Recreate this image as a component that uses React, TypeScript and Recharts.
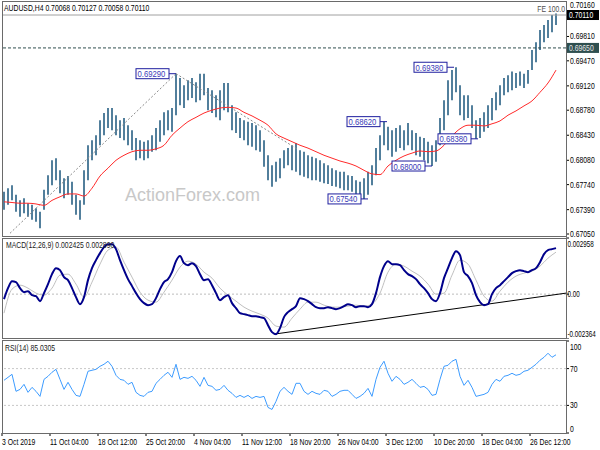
import React from "react";
import { ComposedChart, Bar, Line, XAxis, YAxis, ReferenceLine, ReferenceDot } from "recharts";

const FONT = '"Liberation Sans", Arial, Helvetica, sans-serif';

// ---- price data (each column = one time slot, 4H bars grouped) ----
const candleLow = [
  0.6739, 0.6746, 0.6752, 0.6736, 0.6729, 0.6734, 0.6729, 0.6725, 0.6722, 0.6713,
  0.6739, 0.6760, 0.6773, 0.6780, 0.6762, 0.6755, 0.6760, 0.6746, 0.6732, 0.6725,
  0.6746, 0.6780, 0.6808, 0.6815, 0.6829, 0.6843, 0.6853, 0.6850, 0.6843, 0.6839,
  0.6836, 0.6829, 0.6822, 0.6808, 0.6811, 0.6808, 0.6811, 0.6820, 0.6822, 0.6834,
  0.6843, 0.6850, 0.6848, 0.6871, 0.6885, 0.6881, 0.6892, 0.6895, 0.6889, 0.6892,
  0.6899, 0.6878, 0.6874, 0.6868, 0.6864, 0.6878, 0.6875, 0.6850, 0.6846, 0.6839,
  0.6836, 0.6829, 0.6827, 0.6822, 0.6820, 0.6799, 0.6780, 0.6771, 0.6778, 0.6783,
  0.6797, 0.6801, 0.6794, 0.6792, 0.6787, 0.6785, 0.6783, 0.6780, 0.6780, 0.6778,
  0.6776, 0.6775, 0.6772, 0.6771, 0.6769, 0.6766, 0.6766, 0.6764, 0.6758, 0.6754,
  0.6754, 0.6760, 0.6773, 0.6787, 0.6808, 0.6829, 0.6822, 0.6813, 0.6820, 0.6825,
  0.6822, 0.6829, 0.6822, 0.6815, 0.6813, 0.6808, 0.6804, 0.6800, 0.6806, 0.6829,
  0.6850, 0.6871, 0.6892, 0.6903, 0.6871, 0.6864, 0.6867, 0.6853, 0.6838, 0.6839,
  0.6848, 0.6853, 0.6864, 0.6878, 0.6885, 0.6899, 0.6903, 0.6906, 0.6909, 0.6912,
  0.6909, 0.6915, 0.6934, 0.6945, 0.6962, 0.6973, 0.6979, 0.6987, 0.6997,
];
const candleHigh = [
  0.6764, 0.6769, 0.6773, 0.6760, 0.6752, 0.6755, 0.6748, 0.6746, 0.6741, 0.6736,
  0.6767, 0.6787, 0.6808, 0.6811, 0.6794, 0.6783, 0.6786, 0.6778, 0.6760, 0.6752,
  0.6794, 0.6829, 0.6836, 0.6843, 0.6864, 0.6874, 0.6881, 0.6881, 0.6871, 0.6864,
  0.6867, 0.6857, 0.6850, 0.6839, 0.6836, 0.6834, 0.6836, 0.6843, 0.6853, 0.6864,
  0.6875, 0.6878, 0.6881, 0.6929, 0.6923, 0.6913, 0.6920, 0.6923, 0.6917, 0.6929,
  0.6929, 0.6909, 0.6906, 0.6899, 0.6906, 0.6916, 0.6916, 0.6885, 0.6875, 0.6867,
  0.6864, 0.6862, 0.6860, 0.6857, 0.6850, 0.6836, 0.6815, 0.6801, 0.6806, 0.6811,
  0.6822, 0.6825, 0.6829, 0.6832, 0.6822, 0.6820, 0.6815, 0.6813, 0.6811, 0.6808,
  0.6804, 0.6801, 0.6797, 0.6794, 0.6792, 0.6792, 0.6787, 0.6786, 0.6780, 0.6778,
  0.6783, 0.6792, 0.6801, 0.6825, 0.6843, 0.6862, 0.6855, 0.6850, 0.6853, 0.6857,
  0.6850, 0.6860, 0.6850, 0.6846, 0.6841, 0.6839, 0.6834, 0.6829, 0.6836, 0.6867,
  0.6892, 0.6920, 0.6934, 0.6938, 0.6913, 0.6899, 0.6899, 0.6885, 0.6864, 0.6867,
  0.6875, 0.6885, 0.6895, 0.6903, 0.6913, 0.6923, 0.6927, 0.6932, 0.6930, 0.6932,
  0.6929, 0.6934, 0.6962, 0.6973, 0.6990, 0.6997, 0.7004, 0.7011, 0.7013,
];
// moving average, every second column
const maValues = [
  0.6750, 0.6749, 0.6748, 0.6748, 0.6747, 0.6745, 0.6752, 0.6757, 0.6761, 0.6761,
  0.6758, 0.6769, 0.6786, 0.6797, 0.6808, 0.6815, 0.6820, 0.6822, 0.6822, 0.6824,
  0.6829, 0.6843, 0.6853, 0.6862, 0.6868, 0.6874, 0.6878, 0.6881, 0.6882, 0.6881,
  0.6875, 0.6870, 0.6864, 0.6857, 0.6845, 0.6839, 0.6834, 0.6829, 0.6825, 0.6820,
  0.6815, 0.6811, 0.6807, 0.6804, 0.6800, 0.6794, 0.6789, 0.6788, 0.6800, 0.6808,
  0.6814, 0.6818, 0.6821, 0.6820, 0.6821, 0.6829, 0.6842, 0.6852, 0.6857, 0.6857,
  0.6856, 0.6859, 0.6863, 0.6871, 0.6877, 0.6884, 0.6891, 0.6903, 0.6916, 0.6934,
];
// MACD main line, every column
const macdValues = [
  -0.000264, 0.000316, 0.000685, 0.000632, 0.000316, 0.000105, 0.000158, -0.000053, -0.000105, -0.000369,
  0.000053, 0.000527, 0.001054, 0.00137, 0.001265, 0.000896, 0.000738, 0.000316, -0.000158, -0.000527,
  -0.000158, 0.000738, 0.00137, 0.001792, 0.002161, 0.002477, 0.002635, 0.002635, 0.002372, 0.001792,
  0.001265, 0.000791, 0.000422, 0.000053, -0.000264, -0.000474, -0.00058, -0.000527, -0.000211, 0.000264,
  0.000632, 0.000791, 0.001159, 0.001739, 0.002003, 0.001634, 0.001528, 0.001634, 0.001476, 0.001054,
  0.000738, 0.000791, 0.000474, 0.000053, -0.000316, -0.000158, -0.000053, -0.000474, -0.000738, -0.001001,
  -0.001054, -0.001107, -0.001159, -0.001159, -0.001212, -0.001265, -0.001634, -0.002003, -0.002108, -0.001792,
  -0.001212, -0.000949, -0.000791, -0.000632, -0.000211, -0.000264, -0.000369, -0.000527, -0.000685, -0.000738,
  -0.000738, -0.000685, -0.000738, -0.000791, -0.000738, -0.000632, -0.000527, -0.00058, -0.000685, -0.000632,
  -0.000632, -0.000685, -0.000527, 0.000053, 0.000896, 0.001476, 0.001739, 0.001581, 0.001581, 0.001528,
  0.001265, 0.001054, 0.000949, 0.000791, 0.000527, 0.000316, 0.000053, -0.000264, -0.000369, 0.000053,
  0.000843, 0.00137, 0.001897, 0.002266, 0.002055, 0.001159, 0.000949, 0.00058, -0.000053, -0.000422,
  -0.00058, -0.000527, 0.0, 0.000316, 0.000474, 0.000685, 0.000896, 0.001107, 0.001212, 0.001265,
  0.001212, 0.001159, 0.001265, 0.00137, 0.001686, 0.002108, 0.002319, 0.002372, 0.002425,
];
// MACD signal line, every second column
const signalValues = [
  -0.001001, 0.000264, 0.000474, 0.000316, 0.000053, -0.000053, 0.000316, 0.001001, 0.001054, 0.000527,
  -0.000158, 0.000632, 0.001581, 0.002319, 0.002477, 0.001686, 0.000896, 0.000105, -0.000316, -0.000422,
  0.000105, 0.000738, 0.001423, 0.001739, 0.001581, 0.001159, 0.000843, 0.000316, -0.000053, -0.000369,
  -0.000685, -0.000896, -0.001054, -0.001265, -0.001686, -0.001739, -0.001265, -0.000791, -0.000422, -0.000422,
  -0.00058, -0.000685, -0.000685, -0.000632, -0.00058, -0.000632, -0.000527, 0.000053, 0.001159, 0.001581,
  0.001476, 0.001212, 0.000949, 0.000527, 0.0, 0.000053, 0.001001, 0.001792, 0.001581, 0.000738,
  -0.000105, -0.000369, 0.000158, 0.000632, 0.000949, 0.001107, 0.001212, 0.001476, 0.001897, 0.002213,
];
// RSI(14), every column
const rsiValues = [
  57.3, 60.5, 63.8, 45.3, 47.4, 52.9, 44.2, 49.6, 45.3, 39.8,
  58.3, 61.6, 66.0, 69.2, 58.3, 47.4, 55.1, 47.4, 40.9, 39.8,
  52.9, 67.1, 68.2, 69.2, 72.5, 74.7, 78.0, 72.5, 62.7, 58.3,
  57.3, 52.9, 55.1, 44.2, 40.9, 39.8, 44.2, 45.3, 54.0, 58.3,
  62.7, 66.0, 60.5, 74.7, 58.3, 60.5, 59.4, 61.6, 57.3, 50.7,
  60.5, 51.8, 50.7, 46.4, 47.4, 51.8, 46.4, 43.1, 38.7, 40.9,
  38.7, 40.9, 37.6, 39.8, 38.7, 39.8, 27.8, 25.6, 34.4, 45.3,
  49.6, 45.3, 42.0, 54.0, 54.0, 45.3, 42.0, 45.3, 43.1, 42.0,
  46.4, 45.3, 39.8, 42.0, 45.3, 46.4, 46.4, 42.0, 37.6, 39.8,
  43.1, 48.5, 39.8, 58.3, 71.4, 78.0, 64.9, 56.2, 61.6, 58.3,
  52.9, 55.1, 58.3, 54.0, 49.6, 50.7, 47.4, 40.9, 42.0, 58.3,
  72.5, 73.6, 78.0, 80.1, 61.6, 51.8, 57.3, 49.6, 39.8, 40.9,
  42.0, 44.2, 52.9, 58.3, 56.2, 61.6, 62.7, 64.9, 62.7, 63.8,
  67.1, 68.2, 71.4, 74.7, 79.1, 82.3, 86.7, 82.3, 85.03,
];

// ---- annotations ----
const swingIdx = [43, 91, 95.75, 107, 118.5, 112.5];
const swingPrice = [0.6929, 0.6754, 0.6862, 0.68, 0.6838, 0.6938];
const fiboIdx = [1.5, 43, 73.25];
const fiboPrice = [0.6706, 0.6929, 0.6824];
const feLevel = 0.7011;
const keyLevel = 0.6965;
const topLevel = 0.7016;
const macdTrendIdx = [67.5, 140.5];
const macdTrendVal = [-0.002108, 0.000053];

// ---- axis ticks ----
const priceTicks = [0.7016, 0.7011, 0.6981, 0.6965, 0.6947, 0.6912, 0.6878, 0.6843, 0.6808, 0.6774, 0.6739, 0.6705];
const macdTicks = [0.002958, 0, -0.002364];
const macdTickLabels = ["0.002958", "0.00", "-0.002364"];
const rsiTicks = [100, 70, 30, 0];
const rsiLevels = [70, 30];
const timeTicks = [-0.5, 11.5, 23.5, 35.5, 47.5, 59.5, 71.5, 83.5, 95.5, 107.5, 119.5, 131.5];
const timeLabels = [
  "3 Oct 2019", "11 Oct 04:00", "18 Oct 12:00", "25 Oct 20:00", "4 Nov 04:00", "11 Nov 12:00",
  "18 Nov 20:00", "26 Nov 04:00", "3 Dec 12:00", "10 Dec 20:00", "18 Dec 04:00", "26 Dec 12:00",
];

const X_DOMAIN: [number, number] = [-0.5, 140.5];
const PRICE_DOMAIN: [number, number] = [0.670081, 0.702918];
const MACD_DOMAIN: [number, number] = [-0.002364, 0.002958];

function st(x: number, y: number, txt: string, opts: any = {}) {
  const { fill = "#000", anchor = "start", size = 9, sx = 0.76 } = opts;
  return (
    <text
      transform={`translate(${x},${y}) scale(${sx},1)`}
      x={0}
      y={0}
      fontSize={size}
      fontFamily={FONT}
      fill={fill}
      textAnchor={anchor}
    >
      {txt}
    </text>
  );
}

const priceTick = (props: any) => {
  const { y, payload } = props;
  const v = payload.value;
  const label = Number(v).toFixed(5);
  if (v === feLevel) {
    return (
      <g>
        <rect x={567} y={y - 5} width={32} height={10} fill="#000" />
        {st(569, y + 3, label, { fill: "#fff" })}
      </g>
    );
  }
  if (v === keyLevel) {
    return (
      <g>
        <rect x={567} y={y - 5} width={32} height={10} fill="#2f4f4f" />
        {st(569, y + 3, label, { fill: "#e8e8e8" })}
      </g>
    );
  }
  if (v === topLevel) {
    return <g>{st(570, 7.5, label)}</g>;
  }
  const base = Math.min(Math.max(y + 3, 11), 236.5);
  return <g>{st(570, base, label)}</g>;
};

const macdTick = (props: any) => {
  const { y, payload, index } = props;
  const base = Math.min(Math.max(y + 3, 10), 100);
  return <g>{st(567.5, base, macdTickLabels[index] ?? String(payload.value), { sx: 0.7 })}</g>;
};

const rsiTick = (props: any) => {
  const { y, payload } = props;
  const base = Math.min(Math.max(y + 3, 11), 93);
  return <g>{st(570, base, String(payload.value))}</g>;
};

const timeTick = (props: any) => {
  const { x, index } = props;
  return <g>{st(x, 105.5, timeLabels[index] ?? "")}</g>;
};

const swingShape = (k: number) => (p: any) => {
  const { cx, cy } = p;
  const label = swingPrice[k].toFixed(5);
  return (
    <g>
      <line x1={cx - 7} y1={cy} x2={cx} y2={cy} stroke="#1f1f9f" strokeWidth={1} />
      <rect x={cx - 40} y={cy - 5} width={33} height={10} fill="#fff" stroke="#1f1f9f" strokeWidth={1} />
      {st(cx - 38.5, cy + 3.5, label, { fill: "#3a3ab8", sx: 0.86 })}
    </g>
  );
};

export default function App() {
  const rows = candleLow.map((lo, i) => ({
    i,
    range: [lo, candleHigh[i]],
    ma: i % 2 === 0 ? maValues[i / 2] : null,
    macd: macdValues[i],
    signal: i % 2 === 0 ? signalValues[i / 2] : null,
    rsi: rsiValues[i],
  }));

  return (
    <div style={{ position: "absolute", left: 0, top: 0, width: 600, height: 450, background: "#fff", overflow: "hidden" }}>
      <svg width={600} height={450} style={{ position: "absolute", left: 0, top: 0 }}>
        <text x={125} y={201} fontSize={18} fontFamily={FONT} fill="#c8c8c8">ActionForex.com</text>
      </svg>

      {/* main price panel */}
      <div style={{ position: "absolute", left: 0, top: 0 }}>
        <ComposedChart width={600} height={240} data={rows} margin={{ top: 2, right: 0, bottom: 3, left: 2 }}>
          <XAxis dataKey="i" type="number" domain={X_DOMAIN} hide allowDataOverflow />
          <YAxis
            orientation="right"
            type="number"
            domain={PRICE_DOMAIN}
            allowDataOverflow
            ticks={priceTicks}
            interval={0}
            width={34}
            axisLine={false}
            tickLine={{ stroke: "#000" }}
            tickSize={3}
            tick={priceTick}
          />
          <ReferenceLine y={feLevel} stroke="#a0a0a0" ifOverflow="visible" />
          <ReferenceLine y={keyLevel} stroke="#2f4f4f" strokeDasharray="3 2" ifOverflow="visible" />
          <ReferenceLine
            segment={[{ x: fiboIdx[0], y: fiboPrice[0] }, { x: fiboIdx[1], y: fiboPrice[1] }]}
            stroke="#8a8a8a"
            strokeDasharray="2 2"
            ifOverflow="visible"
          />
          <ReferenceLine
            segment={[{ x: fiboIdx[1], y: fiboPrice[1] }, { x: fiboIdx[2], y: fiboPrice[2] }]}
            stroke="#8a8a8a"
            strokeDasharray="2 2"
            ifOverflow="visible"
          />
          <Bar dataKey="range" barSize={2} fill="#527f9c" isAnimationActive={false} />
          <Line
            dataKey="ma"
            type="monotone"
            stroke="#ff2a2a"
            strokeWidth={1}
            dot={false}
            activeDot={false}
            connectNulls
            isAnimationActive={false}
          />
          {swingIdx.map((xi, k) => (
            <ReferenceDot key={k} x={xi} y={swingPrice[k]} r={0} ifOverflow="visible" shape={swingShape(k)} />
          ))}
        </ComposedChart>
      </div>

      {/* MACD panel */}
      <div style={{ position: "absolute", left: 0, top: 237 }}>
        <ComposedChart width={600} height={102} data={rows} margin={{ top: 1, right: 0, bottom: 0, left: 2 }}>
          <XAxis dataKey="i" type="number" domain={X_DOMAIN} hide allowDataOverflow />
          <YAxis
            orientation="right"
            type="number"
            domain={MACD_DOMAIN}
            allowDataOverflow
            ticks={macdTicks}
            interval={0}
            width={34}
            axisLine={false}
            tickLine={{ stroke: "#000" }}
            tickSize={3}
            tick={macdTick}
          />
          <ReferenceLine y={0} stroke="#bdbdbd" strokeDasharray="2 2" />
          <ReferenceLine
            segment={[{ x: macdTrendIdx[0], y: macdTrendVal[0] }, { x: macdTrendIdx[1], y: macdTrendVal[1] }]}
            stroke="#000"
            strokeWidth={1}
            ifOverflow="visible"
          />
          <Line dataKey="signal" type="monotone" stroke="#c0c0c0" strokeWidth={1} dot={false} activeDot={false} connectNulls isAnimationActive={false} />
          <Line dataKey="macd" type="monotone" stroke="#00008b" strokeWidth={2} dot={false} activeDot={false} isAnimationActive={false} />
        </ComposedChart>
      </div>

      {/* RSI panel */}
      <div style={{ position: "absolute", left: 0, top: 339 }}>
        <ComposedChart width={600} height={111} data={rows} margin={{ top: 2, right: 0, bottom: 0, left: 2 }}>
          <XAxis
            dataKey="i"
            type="number"
            domain={X_DOMAIN}
            allowDataOverflow
            ticks={timeTicks}
            interval={0}
            height={17}
            axisLine={false}
            tickLine={{ stroke: "#000" }}
            tickSize={3}
            tick={timeTick}
          />
          <YAxis
            orientation="right"
            type="number"
            domain={[0, 100]}
            allowDataOverflow
            ticks={rsiTicks}
            interval={0}
            width={34}
            axisLine={false}
            tickLine={{ stroke: "#000" }}
            tickSize={3}
            tick={rsiTick}
          />
          {rsiLevels.map((lv) => (
            <ReferenceLine key={lv} y={lv} stroke="#c8c8c8" strokeDasharray="2 2" />
          ))}
          <Line dataKey="rsi" type="linear" stroke="#3d9cff" strokeWidth={1} dot={false} activeDot={false} isAnimationActive={false} />
        </ComposedChart>
      </div>

      {/* frames and panel captions */}
      <svg width={600} height={450} style={{ position: "absolute", left: 0, top: 0, pointerEvents: "none" }}>
        <rect x={2.5} y={1.5} width={564} height={235} fill="none" stroke="#6a6a6a" />
        <rect x={2.5} y={238.5} width={564} height={100} fill="none" stroke="#6a6a6a" />
        <rect x={2.5} y={340.5} width={564} height={93} fill="none" stroke="#6a6a6a" />
        {st(4, 10.5, "AUDUSD,H4  0.70068 0.70127 0.70058 0.70110")}
        {st(565, 11.5, "FE 100.0", { fill: "#505050", anchor: "end" })}
        {st(6, 248, "MACD(12,26,9) 0.002425 0.002890", { fill: "#202020" })}
        {st(5, 351, "RSI(14) 85.0305", { fill: "#202020" })}
      </svg>
    </div>
  );
}
